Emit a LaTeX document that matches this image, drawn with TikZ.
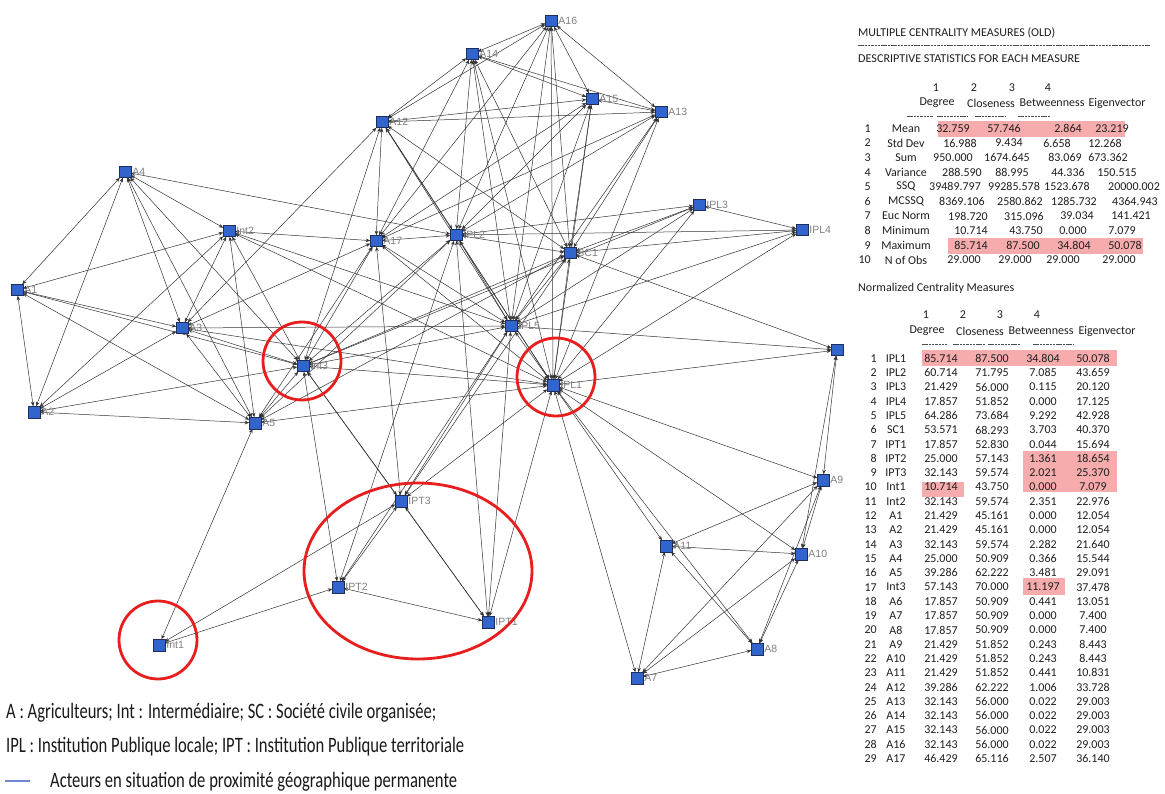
\documentclass[tikz,border=0pt]{standalone}
\usepackage{fontspec}
\usepackage{graphicx}
\usetikzlibrary{arrows.meta}
\setmainfont{Carlito}
\newfontfamily\lblfam{Liberation Sans}
\definecolor{nodeblue}{RGB}{50,100,205}
\definecolor{nodeedge}{RGB}{30,45,90}
\definecolor{ringred}{RGB}{232,30,30}
\definecolor{hlred}{RGB}{246,172,172}
\definecolor{lgblue}{RGB}{110,135,210}
\tikzset{
  nd/.style={rectangle, draw=nodeedge, line width=0.5pt, fill=nodeblue, minimum size=11pt, inner sep=0pt},
  lbl/.style={font=\lblfam\fontsize{10.5}{12}\selectfont, text=black!50, inner sep=0pt, anchor=west},
  ed/.style={draw=black!80, line width=0.5pt, {Stealth[length=4.5pt,width=3.6pt]}-{Stealth[length=4.5pt,width=3.6pt]}},
  ring/.style={draw=ringred, line width=2.8pt},
  hl/.style={fill=hlred, draw=none},
  tb/.style={font=\fontsize{12}{14}\selectfont, inner sep=0pt, text=black!88},
  dsh/.style={draw=black!70, line width=0.6pt, dash pattern=on 2.5pt off 0.8pt},
  leg/.style={font=\fontsize{22}{26}\selectfont, text=black!90, inner sep=0pt, anchor=west}
}
\begin{document}
\begin{tikzpicture}[x=1pt,y=-1pt]
\useasboundingbox (0,0) rectangle (1165,794);
\fill[white] (0,0) rectangle (1165,794);

% ---------- nodes ----------
\foreach \nm/\x/\y in {A16/551/21, A14/472/54, A15/592/99, A13/661/112, A12/382/122,
  A4/125/172, Int2/229/231, A17/376/241, IPL2/456/235, IPL3/699/205, IPL4/802/230,
  SC1/570/253, A1/17/290, A3/182/328, IPL5/511/326, Int3/303/366, IPL1/553/385,
  A2/34/412, A5/255/423, IPT3/401/501, A9/823/480, A11/666/546, A10/801/554,
  IPT2/338/587, IPT1/488/622, Int1/159/645, A8/757/649, A7/637/678}
  \node[nd] (\nm) at (\x,\y) {};
\node[nd] (A6) at (837,350) {};

% ---------- edges ----------
\foreach \a/\b in {A4/A1, A4/A2, A4/A3, A4/Int2, A4/A5, A4/Int3, A4/IPL2,
  A1/Int2, A1/A3, A1/A2, A1/A5, A1/Int3,
  A2/Int2, A2/A3, A2/A5, A2/Int3,
  A3/Int2, A3/A17, A3/A12, A3/Int3, A3/A5, A3/IPL5, A3/IPL1,
  Int2/A5, Int2/Int3, Int2/A17, Int2/IPL5, Int2/IPL1,
  A5/Int3, A5/Int1, A5/A17, A5/IPL2, A5/IPL1, A5/SC1,
  Int1/IPT2, Int1/IPT3,
  Int3/A12, Int3/A17, Int3/IPL2, Int3/IPL5, Int3/SC1, Int3/IPL1, Int3/IPT2, Int3/IPT3, Int3/IPT1, Int3/IPL3,
  A12/A14, A12/A16, A12/A13, A12/A15, A12/A17, A12/IPL2, A12/SC1, A12/IPL1, A12/IPL5,
  A13/A16, A13/A15, A13/A14, A13/IPL2, A13/SC1, A13/IPL5, A13/IPL1, A13/A17,
  A14/A16, A14/A15, A14/A17, A14/IPL2, A14/IPL5, A14/SC1, A14/IPL1,
  A15/A16, A15/A17, A15/IPL2, A15/SC1, A15/IPL5, A15/IPL1,
  A16/A17, A16/IPL2, A16/SC1, A16/IPL5, A16/IPL1,
  A17/IPL2, A17/IPL5, A17/IPL1, A17/IPT3,
  IPL2/IPL3, IPL2/IPL4, IPL2/SC1, IPL2/IPL5, IPL2/IPL1, IPL2/IPT2, IPL2/IPT1,
  IPL3/IPL4, IPL3/SC1, IPL3/IPL5, IPL3/IPL1,
  IPL4/SC1, IPL4/IPL1, IPL4/IPL5,
  SC1/IPL5, SC1/IPL1, SC1/A6, SC1/IPT3,
  IPL5/IPL1, IPL5/A6, IPL5/IPT3, IPL5/IPT2, IPL5/IPT1,
  IPL1/A6, IPL1/A9, IPL1/A10, IPL1/A11, IPL1/A7, IPL1/A8, IPL1/IPT3, IPL1/IPT1,
  A6/A9, A6/A10,
  A9/A10, A9/A11, A9/A7, A9/A8,
  A10/A11, A10/A8, A10/A7,
  A11/A7, A11/A8, A7/A8,
  IPT1/IPT3, IPT1/IPT2, IPT2/IPT3}
  \draw[ed] (\a) -- (\b);

% redraw node squares and labels above edges
\foreach \nm in {A16,A14,A15,A13,A12,A4,Int2,A17,IPL2,IPL3,IPL4,SC1,A1,A3,IPL5,Int3,IPL1,A2,A5,IPT3,A9,A11,A10,IPT2,IPT1,Int1,A8,A7}{
  \fill[nodeblue, draw=nodeedge, line width=0.5pt] (\nm.south west) rectangle (\nm.north east);
  \node[lbl] (lb\nm) at ([xshift=1.5pt]\nm.east) {\nm};
}
\fill[nodeblue, draw=nodeedge, line width=0.5pt] (A6.south west) rectangle (A6.north east);

% ---------- red rings ----------
\draw[ring] (302,361) circle[radius=39];
\draw[ring] (556,377) circle[radius=39];
\draw[ring] (158,640) circle[radius=39];
\draw[ring] (418,571) ellipse[x radius=114, y radius=88];

% ---------- legend ----------
\node[leg] (leg1) at (6,713) {\resizebox{430pt}{\height}{A : Agriculteurs; Int : Intermédiaire; SC : Société civile organisée;}};
\node[leg] (leg2) at (6,747) {\resizebox{458pt}{\height}{IPL : Institution Publique locale; IPT : Institution Publique territoriale}};
\coordinate (lgA) at (5,781);
\coordinate (lgB) at (30,781);
\draw[lgblue, line width=1.2pt] (lgA) -- (lgB);
\node[leg] (leg3) at (50,782) {\resizebox{407pt}{\height}{Acteurs en situation de proximité géographique permanente}};

% ---------- table 1 ----------
\fill[hl] (938,121) rectangle (1125,137);
\fill[hl] (948,238) rectangle (1143,254);
\node[tb, anchor=west] (t1title) at (858,33) {\resizebox{197pt}{\height}{MULTIPLE CENTRALITY MEASURES (OLD)}};
\coordinate (d1a) at (858,45); \coordinate (d1b) at (1150,45);
\draw[dsh] (d1a) -- (d1b);
\node[tb, anchor=west] (t1sub) at (858,59) {\resizebox{222pt}{\height}{DESCRIPTIVE STATISTICS FOR EACH MEASURE}};
\foreach \k/\x in {1/936,2/974,3/1012,4/1048} \node[tb] (t1n\k) at (\x,88) {\k};
\node[tb] (t1h1) at (937,103) {Degree};
\node[tb] (t1h2) at (991,103) {Closeness};
\node[tb] (t1h3) at (1052,103) {Betweenness};
\node[tb] (t1h4) at (1117,103) {Eigenvector};
\foreach \u/\v in {907/933, 937/967, 975/1005, 1018/1050}
  \draw[dsh, line width=0.4pt] (\u,116) -- (\v,116);
\foreach \n/\lab/\a/\xa/\b/\xb/\c/\xc/\d/\xd in {
  1/Mean/32.759/953/57.746/1004/2.864/1068/23.219/1112,
  2/Std Dev/16.988/960/9.434/1009/6.658/1057/12.268/1105,
  3/Sum/950.000/953/1674.645/1007/83.069/1065/673.362/1108,
  4/Variance/288.590/962/88.995/1012/44.336/1068/150.515/1117,
  5/SSQ/39489.797/955/99285.578/1014/1523.678/1067/20000.002/1134,
  6/MCSSQ/8369.106/962/2580.862/1020/1285.732/1074/4364.943/1135,
  7/Euc Norm/198.720/968/315.096/1024/39.034/1077/141.421/1131,
  8/Minimum/10.714/971/43.750/1026/0.000/1073/7.079/1122,
  9/Maximum/85.714/971/87.500/1023/34.804/1074/50.078/1125,
  10/N of Obs/29.000/964/29.000/1015/29.000/1063/29.000/1119}{
  \pgfmathsetmacro{\yy}{128.5+(\n-1)*14.6}
  \node[tb, anchor=east] (t1r\n) at (871,\yy) {\n};
  \node[tb] (t1l\n) at (906,\yy) {\lab};
  \node[tb] (t1a\n) at (\xa,\yy) {\a};
  \node[tb] (t1b\n) at (\xb,\yy) {\b};
  \node[tb] (t1c\n) at (\xc,\yy) {\c};
  \node[tb] (t1d\n) at (\xd,\yy) {\d};
}

% ---------- table 2 ----------
\fill[hl] (922,350) rectangle (1117,366);
\fill[hl] (1023,451) rectangle (1117,492);
\fill[hl] (922,482) rectangle (964,497);
\fill[hl] (1023,578) rectangle (1065,595);
\node[tb, anchor=west] (t2title) at (858,288) {Normalized Centrality Measures};
\foreach \k/\x in {1/926,2/963,3/1000,4/1037} \node[tb] (t2n\k) at (\x,315) {\k};
\node[tb] (t2h1) at (927,331) {Degree};
\node[tb] (t2h2) at (980,331) {Closeness};
\node[tb] (t2h3) at (1041,331) {Betweenness};
\node[tb] (t2h4) at (1107,331) {Eigenvector};
\foreach \u/\v in {922/947, 953/985, 988/1020, 1033/1073}
  \draw[dsh, line width=0.4pt] (\u,344) -- (\v,344);
\foreach \n/\lab/\a/\b/\c/\d in {
  1/IPL1/85.714/87.500/34.804/50.078,
  2/IPL2/60.714/71.795/7.085/43.659,
  3/IPL3/21.429/56.000/0.115/20.120,
  4/IPL4/17.857/51.852/0.000/17.125,
  5/IPL5/64.286/73.684/9.292/42.928,
  6/SC1/53.571/68.293/3.703/40.370,
  7/IPT1/17.857/52.830/0.044/15.694,
  8/IPT2/25.000/57.143/1.361/18.654,
  9/IPT3/32.143/59.574/2.021/25.370,
  10/Int1/10.714/43.750/0.000/7.079,
  11/Int2/32.143/59.574/2.351/22.976,
  12/A1/21.429/45.161/0.000/12.054,
  13/A2/21.429/45.161/0.000/12.054,
  14/A3/32.143/59.574/2.282/21.640,
  15/A4/25.000/50.909/0.366/15.544,
  16/A5/39.286/62.222/3.481/29.091,
  17/Int3/57.143/70.000/11.197/37.478,
  18/A6/17.857/50.909/0.441/13.051,
  19/A7/17.857/50.909/0.000/7.400,
  20/A8/17.857/50.909/0.000/7.400,
  21/A9/21.429/51.852/0.243/8.443,
  22/A10/21.429/51.852/0.243/8.443,
  23/A11/21.429/51.852/0.441/10.831,
  24/A12/39.286/62.222/1.006/33.728,
  25/A13/32.143/56.000/0.022/29.003,
  26/A14/32.143/56.000/0.022/29.003,
  27/A15/32.143/56.000/0.022/29.003,
  28/A16/32.143/56.000/0.022/29.003,
  29/A17/46.429/65.116/2.507/36.140}{
  \pgfmathsetmacro{\yy}{358.5+(\n-1)*14.29}
  \node[tb, anchor=east] (t2r\n) at (877,\yy) {\n};
  \node[tb] (t2l\n) at (896,\yy) {\lab};
  \node[tb] (t2a\n) at (941,\yy) {\a};
  \node[tb] (t2b\n) at (992,\yy) {\b};
  \node[tb] (t2c\n) at (1043,\yy) {\c};
  \node[tb] (t2d\n) at (1093,\yy) {\d};
}
\end{tikzpicture}
\end{document}
